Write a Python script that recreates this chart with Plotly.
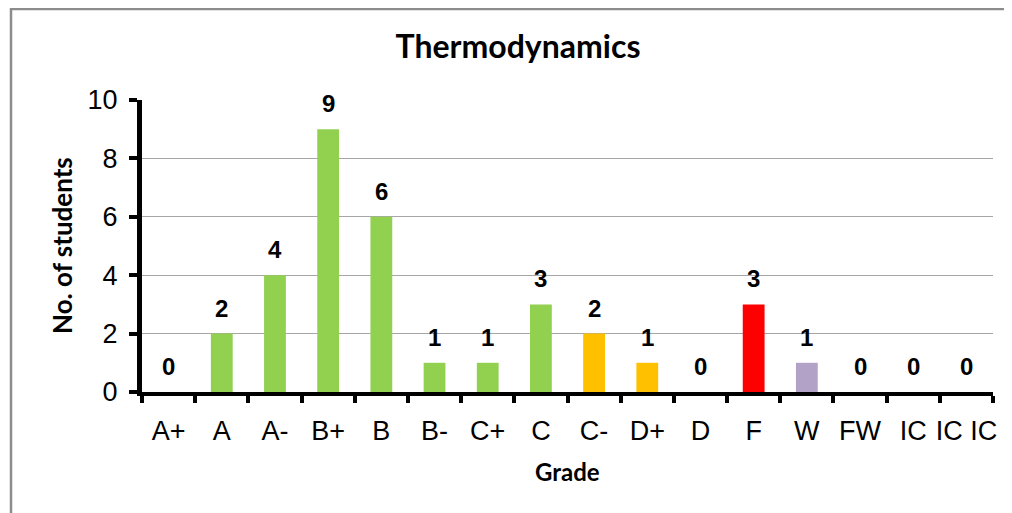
import plotly.graph_objects as go

grades = ["A+", "A", "A-", "B+", "B", "B-", "C+", "C", "C-", "D+", "D", "F", "W", "FW", "IC", "IC IC"]
students = [0, 2, 4, 9, 6, 1, 1, 3, 2, 1, 0, 3, 1, 0, 0, 0]
bar_colors = ["#92D050"] * 8 + ["#FFC000", "#FFC000", "#FFC000", "#FF0000", "#B3A2C7", "#B3A2C7", "#B3A2C7", "#B3A2C7"]
y_ticks = [0, 2, 4, 6, 8, 10]

ML, MT, PW, PH = 134, 92, 851, 292
W, H = 1012, 513

fig = go.Figure()
fig.add_trace(go.Bar(
    x=grades, y=students,
    marker=dict(color=bar_colors, line=dict(width=0)),
    width=0.41,
    hoverinfo="skip",
))

for g, v in zip(grades, students):
    fig.add_annotation(x=g, y=v, xref="x", yref="y", text="<b>%d</b>" % v,
                       showarrow=False, yanchor="bottom", yshift=10,
                       font=dict(family="Liberation Sans", size=24, color="black"))

fig.add_annotation(x=0.5, y=-79 / PH, xref="paper", yref="paper", text="<b>Grade</b>",
                   showarrow=False, xanchor="center", yanchor="middle",
                   font=dict(family="Lato", size=24, color="black"))
fig.add_annotation(x=-80 / PW, y=0.5, xref="paper", yref="paper", text="<b>No. of students</b>",
                   showarrow=False, xanchor="center", yanchor="middle", textangle=-90,
                   font=dict(family="Lato", size=26, color="black"))

fig.update_layout(
    width=W, height=H,
    margin=dict(l=ML, r=W - ML - PW, t=MT, b=H - MT - PH, autoexpand=False),
    paper_bgcolor="white", plot_bgcolor="white",
    showlegend=False,
    title=dict(text="<b>Thermodynamics</b>", x=510 / W, xanchor="center", y=1 - 39 / H, yanchor="middle",
               font=dict(family="Lato", size=32, color="black")),
    font=dict(family="Liberation Sans", color="black"),
)
fig.update_xaxes(
    type="category", automargin=False, tickangle=0,
    showline=True, linecolor="black", linewidth=4,
    ticks="outside", tickson="boundaries", ticklen=7, tickwidth=4, tickcolor="black",
    ticklabelstandoff=12,
    tickfont=dict(family="Liberation Sans", size=27, color="black"),
    showgrid=False,
)
fig.update_yaxes(
    range=[0, 10], tickvals=y_ticks, automargin=False,
    showline=True, linecolor="black", linewidth=5,
    ticks="outside", ticklen=8, tickwidth=4, tickcolor="black",
    ticklabelstandoff=6,
    tickfont=dict(family="Liberation Sans", size=27, color="black"),
    showgrid=True, gridcolor="#A6A6A6", gridwidth=1,
    zeroline=False,
)
fig.add_shape(type="rect", xref="paper", yref="paper",
              x0=(3 - ML) / PW, x1=1.2, y0=-1.0, y1=(MT + PH - 1) / PH,
              line=dict(color="#8C8C8C", width=2.5), fillcolor="rgba(0,0,0,0)", layer="below")

fig.write_html("out.html")
